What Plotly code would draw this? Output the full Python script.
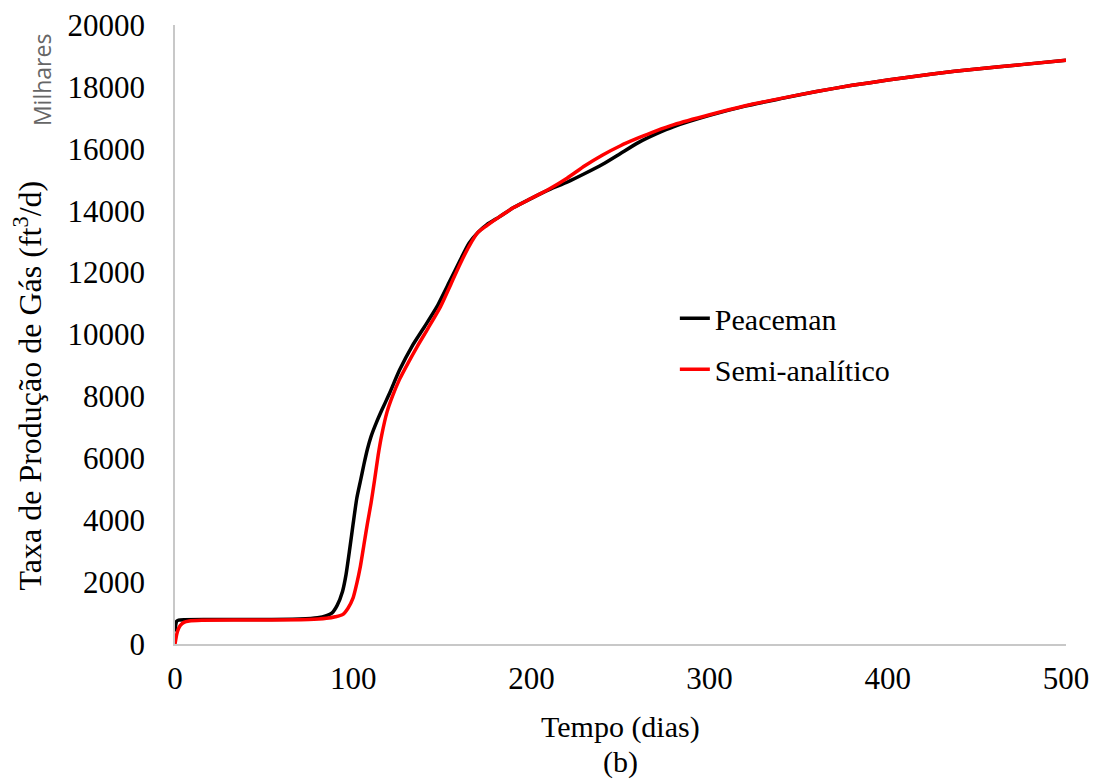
import plotly.graph_objects as go

# Peaceman series
t_peaceman = [0, 0.5, 1, 2, 5, 20, 50, 70, 80, 85, 88, 91, 94, 96, 98, 100, 102, 104, 106, 108,
              110, 113, 116, 120, 126, 133, 140, 147, 154, 160, 165, 170, 175, 182, 190, 200,
              210, 220, 230, 240, 250, 260, 270, 280, 300, 320, 340, 360, 380, 400, 425, 450, 475, 500]
q_peaceman = [400, 650, 740, 770, 785, 790, 795, 810, 850, 920, 1000, 1250, 1700, 2250, 3050, 3900, 4700, 5250, 5800, 6300,
              6700, 7150, 7550, 8050, 8850, 9620, 10250, 10900, 11700, 12400, 12950, 13300, 13550, 13800, 14100, 14400,
              14680, 14920, 15200, 15500, 15850, 16200, 16480, 16720, 17080, 17380, 17620, 17850, 18050, 18220, 18420, 18580, 18720, 18860]

# Semi-analitico series
t_semi = [0, 1, 2, 3, 5, 8, 15, 50, 75, 85, 90, 94, 97, 100, 102, 104, 106, 108, 110, 112,
          114, 116, 119, 122, 126, 131, 136, 142, 149, 155, 160, 165, 170, 175, 182, 190, 200,
          210, 220, 230, 240, 250, 260, 270, 280, 300, 320, 340, 360, 380, 400, 425, 450, 475, 500]
q_semi = [0, 320, 500, 600, 700, 745, 765, 775, 790, 830, 880, 950, 1150, 1500, 1950, 2500, 3200, 3900, 4550, 5300,
          6100, 6750, 7500, 8000, 8550, 9100, 9620, 10200, 10900, 11650, 12280, 12850, 13300, 13520, 13800, 14100, 14400,
          14700, 15050, 15450, 15800, 16100, 16350, 16580, 16780, 17100, 17390, 17630, 17850, 18050, 18220, 18420, 18580, 18720, 18860]

x_ticks = [0, 100, 200, 300, 400, 500]
y_ticks = [0, 2000, 4000, 6000, 8000, 10000, 12000, 14000, 16000, 18000, 20000]

SERIF = "Liberation Serif, Times New Roman, serif"
FS = 31

fig = go.Figure()
fig.add_trace(go.Scatter(x=t_peaceman, y=q_peaceman, mode="lines", name="Peaceman",
                         legendgroup="a",
                         line=dict(color="#000000", width=3.5, shape="spline", smoothing=0.6)))
fig.add_trace(go.Scatter(x=t_semi, y=q_semi, mode="lines", name="Semi-analítico",
                         legendgroup="b",
                         line=dict(color="#FF0000", width=3.5, shape="spline", smoothing=0.6)))

axis_common = dict(showgrid=False, zeroline=False, showline=True, linecolor="#c8c8c8", linewidth=1.5,
                   ticks="outside", tickcolor="rgba(0,0,0,0)", automargin=False,
                   tickfont=dict(family=SERIF, size=FS, color="#000000"))

fig.update_xaxes(range=[0, 500], tickvals=x_ticks, ticktext=[str(v) for v in x_ticks], ticklen=6, **axis_common)
fig.update_yaxes(range=[0, 20000], tickvals=y_ticks, ticktext=[str(v) for v in y_ticks], ticklen=22, **axis_common)

fig.update_layout(
    width=1099, height=782,
    margin=dict(l=175, r=33, t=25, b=138, autoexpand=False),
    plot_bgcolor="white", paper_bgcolor="white",
    font=dict(family=SERIF, size=30, color="#000000"),
    showlegend=True,
    legend=dict(x=0.561, y=0.485, xanchor="left", yanchor="middle", bgcolor="rgba(0,0,0,0)",
                font=dict(family=SERIF, size=30, color="#000000"), tracegroupgap=9,
                traceorder="grouped"),
    annotations=[
        dict(text="Tempo (dias)", xref="paper", yref="paper", x=0.5, y=0, yanchor="middle",
             yshift=-83, showarrow=False, font=dict(family=SERIF, size=30)),
        dict(text="(b)", xref="paper", yref="paper", x=0.5, y=0, yanchor="middle",
             yshift=-118, showarrow=False, font=dict(family=SERIF, size=30)),
        dict(text="Taxa de Produção de Gás (ft<sup>3</sup>/d)", xref="paper", yref="paper", x=0, y=0.5,
             xanchor="center", yanchor="middle", xshift=-148, yshift=-51, textangle=-90,
             showarrow=False, font=dict(family=SERIF, size=32)),
        dict(text="Milhares", xref="paper", yref="paper", x=0, y=0.911, xanchor="center", yanchor="middle",
             xshift=-133, textangle=-90, showarrow=False,
             font=dict(family="Open Sans, sans-serif", size=23, color="#666666")),
    ],
)

fig.write_html("out.html")
